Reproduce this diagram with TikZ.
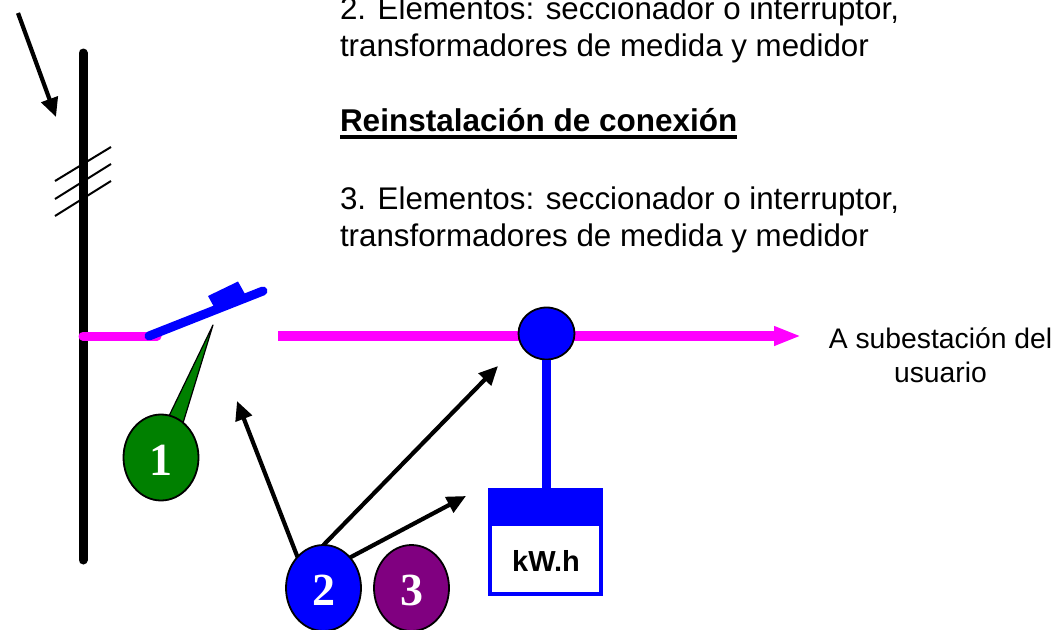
\documentclass[tikz,border=0pt]{standalone}
\usepackage{fontspec}
\setmainfont{Liberation Sans}
\newfontfamily\numfont{Liberation Serif}
\usetikzlibrary{arrows.meta,shapes.geometric,calc}
\definecolor{mag}{RGB}{255,0,255}
\definecolor{blu}{RGB}{0,0,255}
\definecolor{grn}{RGB}{0,128,0}
\definecolor{pur}{RGB}{128,0,128}
\tikzset{
  body/.style={inner sep=0pt,outer sep=0pt,align=left,anchor=north west,font=\fontsize{31.3}{37.2}\selectfont},
  small/.style={inner sep=0pt,outer sep=0pt,align=center,font=\fontsize{28.3}{34}\selectfont},
  bubble/.style={ellipse,draw=black,line width=1.8pt,minimum width=75pt,minimum height=86pt,inner sep=0pt,outer sep=0pt,text=white,text height=35pt,text depth=0pt,font=\fontsize{46}{46}\selectfont\numfont\bfseries},
  arr/.style={draw=black,line width=4.2pt,-{Triangle[length=19pt,width=17pt]}},
  tick/.style={black,line width=2pt},
}
\begin{document}
\begin{tikzpicture}[x=1pt,y=-1pt]
\useasboundingbox (0,0) rectangle (1057,629);
% coordinates
\coordinate (feedA) at (18,13);
\coordinate (feedB) at (56,117);
\coordinate (busT) at (83,53);
\coordinate (busB) at (83,560);
\coordinate (stubA) at (83,336);
\coordinate (stubB) at (157,336);
\coordinate (swA) at (149,336);
\coordinate (swB) at (263,291);
\coordinate (lineA) at (278,336);
\coordinate (lineB) at (801,336);
\coordinate (tipA) at (237,401);
\coordinate (tipB) at (498,366);
\coordinate (tipC) at (466,496);
% bus and feeder
\draw[black,line width=9pt,line cap=round] (busT) -- (busB);
\draw[arr] (feedA) -- (feedB);
\draw[tick] (55,181) -- (111,147);
\draw[tick] (55,199) -- (111,164);
\draw[tick] (55,216) -- (111,181);
% switch
\draw[mag,line width=9pt,line cap=round] (stubA) -- (stubB);
\draw[blu,line width=9pt,line cap=round] (swA) -- (swB);
\fill[blu] (208,296) -- (238,281.5) -- (245,294) -- (214,307) -- cycle;
% main line
\draw[mag,line width=10pt,-{Triangle[length=27pt,width=18pt]}] (lineA) -- (lineB);
% meter
\node[draw=blu,line width=4pt,minimum width=111pt,minimum height=104pt,inner sep=0pt,outer sep=0pt] (meter) at (545.5,542) {};
\fill[blu] (488,488) rectangle (603,526);
\node[inner sep=0pt,outer sep=0pt,font=\fontsize{29}{29}\selectfont\bfseries] (kwh) at (546,561) {kW.h};
\node[ellipse,draw=black,fill=blu,line width=1.8pt,minimum width=56pt,minimum height=52pt,inner sep=0pt,outer sep=0pt] (tc) at (546.5,333.5) {};
\draw[blu,line width=9pt] (tc) -- (tc |- meter.north);
% callouts
\fill[grn,draw=black,line width=1.2pt,line join=round] (169,416) -- (213,325) -- (183,423) -- cycle;
\node[bubble,fill=grn] (n1) at (161,457.5) {1};
\fill[grn] (170,418) -- (182,423) -- (180,428) -- (171,425) -- cycle;
\node[bubble,fill=blu] (n2) at (323.5,588) {2};
\node[bubble,fill=pur] (n3) at (411.5,588) {3};
\draw[arr] (n2.130) -- (tipA);
\draw[arr] (n2.90) -- (tipB);
\draw[arr] (n2.49) -- (tipC);
% text
\node[body] (t1) at (340,-3) {2. Elementos: seccionador o interruptor,\\transformadores de medida y medidor};
\node[inner sep=0pt,outer sep=0pt,anchor=base west,font=\fontsize{31.5}{34}\selectfont\bfseries] (head) at (340,131.5) {Reinstalación de conexión};
\draw[black,line width=3.6pt] ($(head.base west)+(0,5.5)$) -- ($(head.base east)+(0,5.5)$);
\node[body] (t2) at (340,187) {3. Elementos: seccionador o interruptor,\\transformadores de medida y medidor};
\node[small] (dest) at (940.5,355) {A subestación del\\usuario};
\end{tikzpicture}
\end{document}
